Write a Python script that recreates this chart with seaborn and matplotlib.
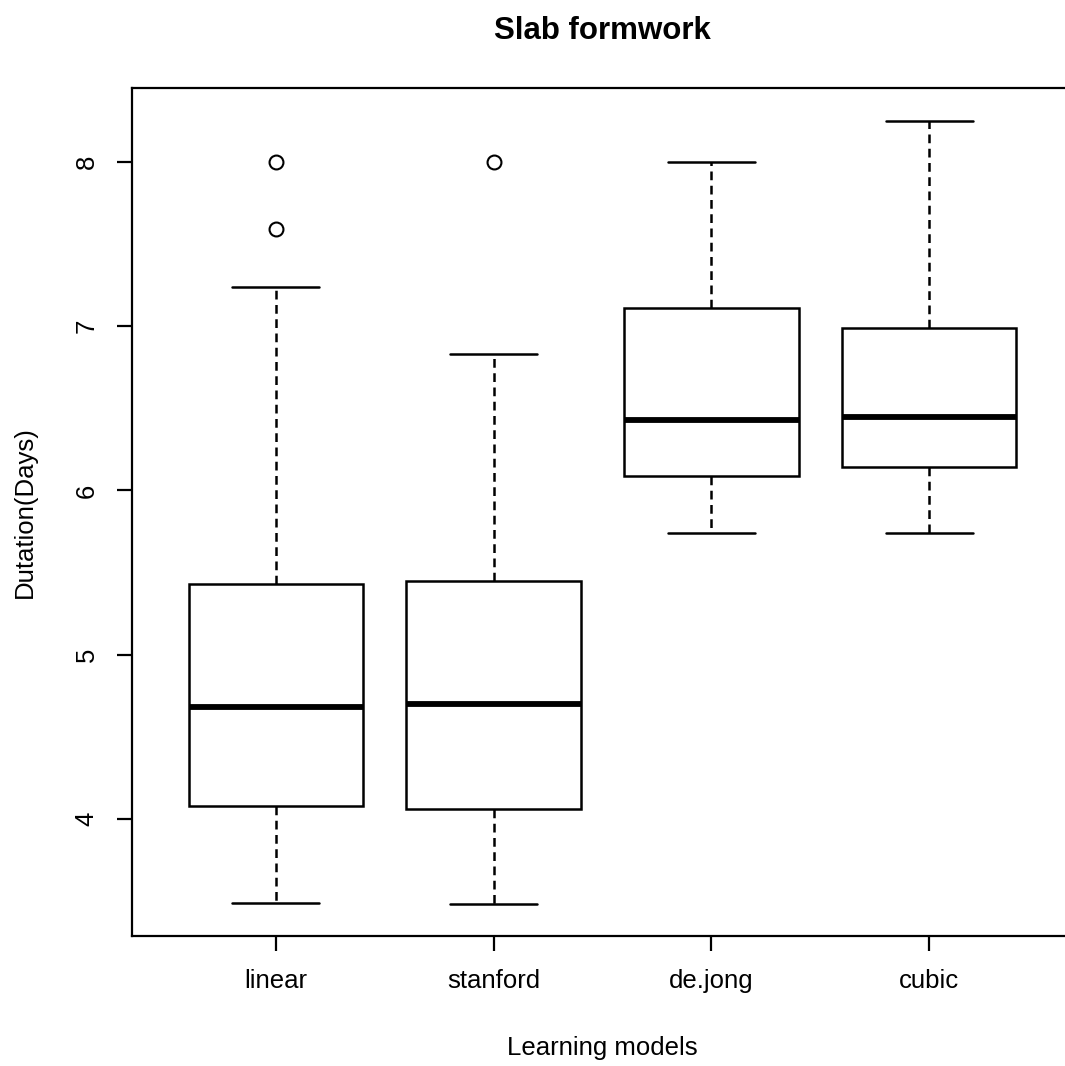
import matplotlib
matplotlib.use("Agg")
import matplotlib.pyplot as plt
import seaborn as sns

# Five-number summaries per learning model (durations in days)
models = ["linear", "stanford", "de.jong", "cubic"]
lower_whisker = [3.49, 3.48, 5.74, 5.74]
q1 = [4.08, 4.06, 6.09, 6.14]
median = [4.68, 4.70, 6.43, 6.45]
q3 = [5.43, 5.45, 7.11, 6.99]
upper_whisker = [7.24, 6.83, 8.00, 8.25]
outliers = [[7.59, 8.00], [8.00], [], []]
y_ticks = [4, 5, 6, 7, 8]

sns.set_theme(style="white")
plt.rcParams["font.family"] = ["Liberation Sans", "DejaVu Sans"]

fig = plt.figure(figsize=(10.65, 10.66), dpi=100)
ax = fig.add_axes([132 / 1065, 130 / 1066, 941 / 1065, 848 / 1066])

stats = [
    dict(label=m, whislo=lo, q1=a, med=md, q3=b, whishi=hi, fliers=fl)
    for m, lo, a, md, b, hi, fl in zip(models, lower_whisker, q1, median,
                                       q3, upper_whisker, outliers)
]

ax.bxp(
    stats,
    positions=range(1, len(models) + 1),
    widths=0.8,
    capwidths=0.4,
    patch_artist=True,
    boxprops=dict(facecolor="white", edgecolor="black", linewidth=1.8),
    medianprops=dict(color="black", linewidth=4.2, solid_capstyle="butt"),
    whiskerprops=dict(color="black", linewidth=1.8, linestyle=(0, (3.5, 2.2))),
    capprops=dict(color="black", linewidth=1.8),
    flierprops=dict(marker="o", markerfacecolor="none", markeredgecolor="black",
                    markersize=10, markeredgewidth=1.5),
)

ax.set_xlim(0.34, 4.66)
ax.set_ylim(3.288, 8.45)
ax.set_yticks(y_ticks)
ax.set_yticklabels([str(t) for t in y_ticks])
ax.set_xticks(range(1, len(models) + 1))
ax.set_xticklabels(models)

for s in ax.spines.values():
    s.set_visible(True)
    s.set_color("black")
    s.set_linewidth(1.6)

ax.tick_params(axis="both", which="major", bottom=True, left=True,
               direction="out", length=11, width=1.6, color="black",
               labelsize=18.5, labelcolor="black", pad=13)
plt.setp(ax.get_yticklabels(), rotation=90, va="center")

ax.set_title("Slab formwork", fontsize=22.5, fontweight="bold", pad=35,
             color="black")
ax.set_xlabel("Learning models", fontsize=18.5, color="black")
ax.set_ylabel("Dutation(Days)", fontsize=18.5, color="black")
ax.xaxis.set_label_coords(0.5, -0.118)
ax.yaxis.set_label_coords(-0.101, 0.5)
ax.grid(False)

fig.savefig("out.png", dpi=100, facecolor="white")
